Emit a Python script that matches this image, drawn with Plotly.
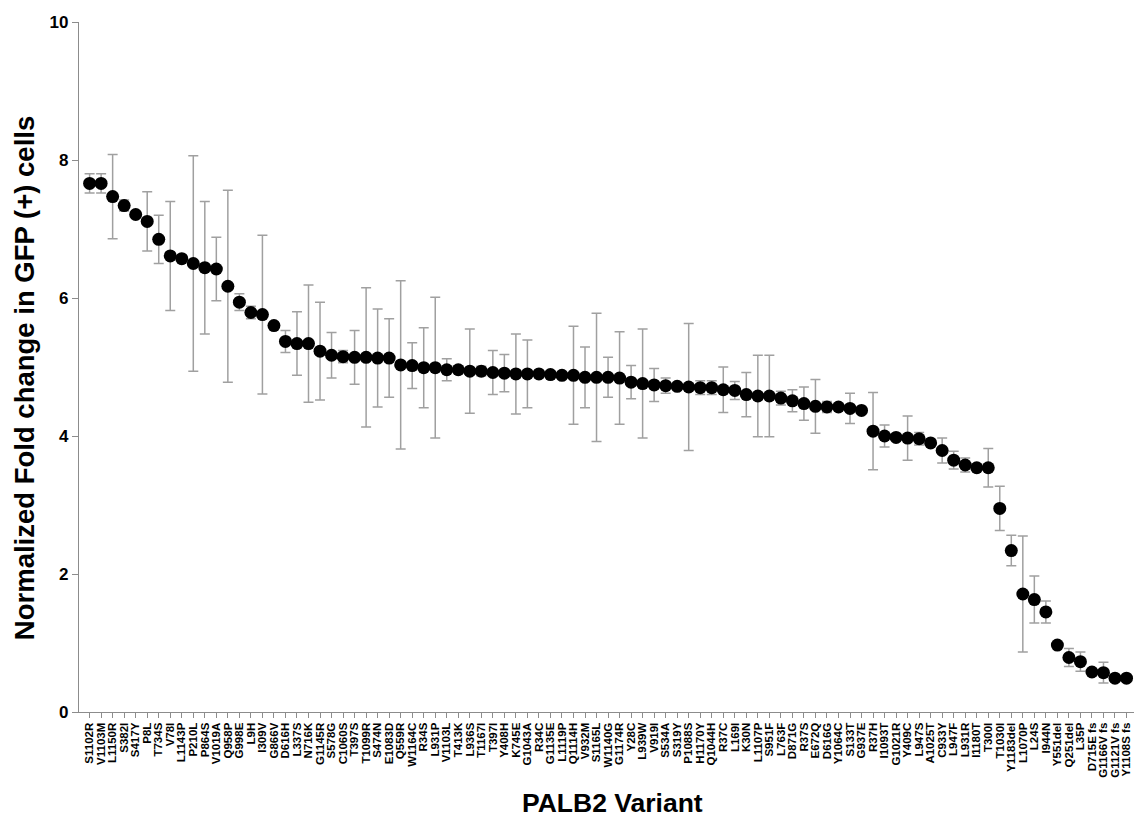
import plotly.graph_objects as go

# PALB2 variants, sorted by normalized fold change in GFP(+) cells
variants = [
    "S1102R", "V1103M", "L1150R", "S382I", "S417Y", "P8L", "T734S", "V78I",
    "L1143P", "P210L", "P864S", "V1019A", "Q958P", "G998E", "L9H", "I309V",
    "G866V", "D616H", "L337S", "N716K", "G1145R", "S578G", "C1060S", "T397S",
    "T1099R", "S474N", "E1083D", "Q559R", "W1164C", "R34S", "L931P", "V1103L",
    "T413K", "L936S", "T1167I", "T397I", "Y408H", "K745E", "G1043A", "R34C",
    "G1135E", "L1119P", "Q1114H", "V932M", "S1165L", "W1140G", "G1174R", "Y28C",
    "L939W", "V919I", "S534A", "S319Y", "P1088S", "H1170Y", "Q1044H", "R37C",
    "L169I", "K30N", "L1107P", "S951F", "L763F", "D871G", "R37S", "E672Q",
    "D616G", "Y1064C", "S133T", "G937E", "R37H", "I1093T", "G1021R", "Y409C",
    "L947S", "A1025T", "C933Y", "L947F", "L931R", "I1180T", "T300I", "T1030I",
    "Y1183del", "L1070P", "L24S", "I944N", "Y551del", "Q251del", "L35P",
    "D715E fs", "G1166V fs", "G1121V fs", "Y1108S fs",
]

fold_change = [
    7.66, 7.66, 7.47, 7.34, 7.21, 7.11, 6.85, 6.61,
    6.57, 6.50, 6.44, 6.42, 6.17, 5.94, 5.79, 5.76,
    5.60, 5.37, 5.34, 5.34, 5.23, 5.17, 5.15, 5.14,
    5.14, 5.13, 5.13, 5.03, 5.02, 4.99, 4.99, 4.96,
    4.96, 4.94, 4.94, 4.92, 4.91, 4.90, 4.90, 4.90,
    4.89, 4.88, 4.88, 4.85, 4.85, 4.85, 4.84, 4.78,
    4.76, 4.74, 4.73, 4.72, 4.71, 4.70, 4.70, 4.67,
    4.66, 4.60, 4.58, 4.58, 4.55, 4.51, 4.47, 4.43,
    4.42, 4.42, 4.40, 4.37, 4.07, 4.00, 3.98, 3.97,
    3.96, 3.90, 3.79, 3.65, 3.58, 3.54, 3.54, 2.95,
    2.34, 1.71, 1.63, 1.45, 0.97, 0.79, 0.73,
    0.58, 0.57, 0.49, 0.49,
]

sd = [
    0.14, 0.14, 0.61, 0.08, 0.00, 0.43, 0.35, 0.79,
    0.00, 1.56, 0.96, 0.46, 1.39, 0.12, 0.09, 1.15,
    0.00, 0.16, 0.46, 0.85, 0.71, 0.33, 0.09, 0.39,
    1.01, 0.71, 0.57, 1.22, 0.33, 0.58, 1.02, 0.16,
    0.05, 0.61, 0.07, 0.32, 0.27, 0.58, 0.49, 0.00,
    0.05, 0.00, 0.71, 0.44, 0.93, 0.29, 0.67, 0.24,
    0.79, 0.24, 0.11, 0.00, 0.92, 0.10, 0.10, 0.33,
    0.13, 0.32, 0.59, 0.59, 0.10, 0.16, 0.24, 0.39,
    0.08, 0.04, 0.22, 0.00, 0.56, 0.16, 0.03, 0.32,
    0.09, 0.00, 0.18, 0.13, 0.10, 0.00, 0.28, 0.32,
    0.22, 0.84, 0.34, 0.16, 0.00, 0.13, 0.14,
    0.03, 0.15, 0.00, 0.00,
]

y_ticks = [0, 2, 4, 6, 8, 10]

FONT = "Arial, Liberation Sans, Helvetica, sans-serif"
AXIS_GREY = "#8c8c8c"

fig = go.Figure()
fig.add_trace(go.Scatter(
    x=variants,
    y=fold_change,
    mode="markers",
    marker=dict(color="black", size=13, line=dict(width=0)),
    error_y=dict(type="data", array=sd, visible=True,
                 color="#a0a0a0", thickness=1.5, width=5),
    showlegend=False,
))

fig.update_layout(
    width=1138, height=825,
    margin=dict(l=79, r=4, t=22, b=113),
    paper_bgcolor="white", plot_bgcolor="white",
    font=dict(family=FONT, color="black"),
    xaxis=dict(
        type="category",
        range=[-0.92, 90.65],
        tickmode="array", tickvals=variants, ticktext=variants,
        showline=True, linecolor=AXIS_GREY, linewidth=1.2,
        ticks="outside", ticklen=5, tickcolor=AXIS_GREY, tickwidth=1,
        tickangle=-90,
        tickfont=dict(family=FONT, size=11.5, color="black", weight="bold"),
        showgrid=False, zeroline=False,
    ),
    yaxis=dict(
        range=[0, 10],
        tickvals=y_ticks,
        showline=True, linecolor=AXIS_GREY, linewidth=1.2,
        ticks="outside", ticklen=6, tickcolor=AXIS_GREY, tickwidth=1,
        tickfont=dict(family=FONT, size=17, color="black", weight="bold"),
        showgrid=False, zeroline=False,
    ),
    annotations=[
        dict(text="<b>Normalized Fold change in GFP (+) cells</b>",
             xref="paper", yref="paper", x=-0.052, y=0.484,
             xanchor="center", yanchor="middle", textangle=-90,
             showarrow=False, font=dict(family=FONT, size=27.5, color="black")),
        dict(text="<b>PALB2 Variant</b>",
             xref="paper", yref="paper", x=0.5055, y=-0.132,
             xanchor="center", yanchor="middle",
             showarrow=False, font=dict(family=FONT, size=26.5, color="black")),
    ],
)

fig.write_html("out.html")
